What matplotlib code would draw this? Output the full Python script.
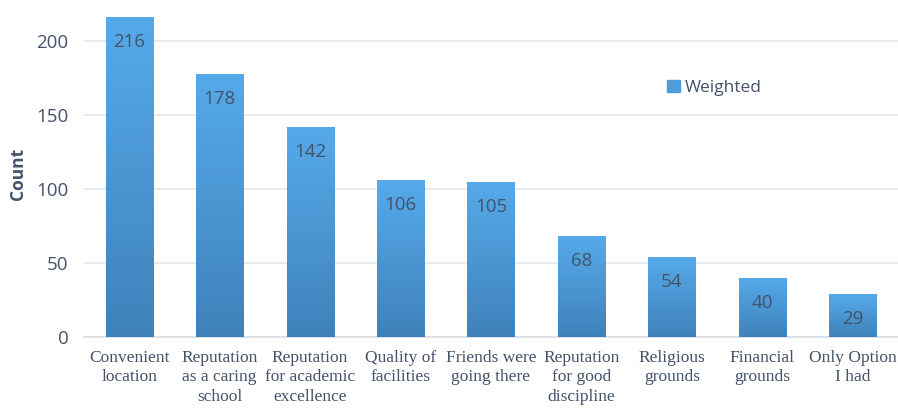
import numpy as np
import matplotlib.pyplot as plt
from matplotlib.colors import LinearSegmentedColormap
from matplotlib.patches import Patch

# datos del grafico
categorias = ['Convenient\nlocation', 'Reputation\nas a caring\nschool',
              'Reputation\nfor academic\nexcellence', 'Quality of\nfacilities',
              'Friends were\ngoing there', 'Reputation\nfor good\ndiscipline',
              'Religious\ngrounds', 'Financial\ngrounds', 'Only Option\nI had']
valores = [216, 178, 142, 106, 105, 68, 54, 40, 29]
yticks = [0, 50, 100, 150, 200]

texto = '#44526a'
cmap = LinearSegmentedColormap.from_list('azul', ['#3f82bb', '#56aaea'])

fig = plt.figure(figsize=(8.98, 4.09), dpi=100)
ax = fig.add_axes([0.0935, 0.176, 0.9065, 0.796])

x = np.arange(len(valores))
barras = ax.bar(x, valores, width=0.52, color='#4a96d4', zorder=2)

# degradado dentro de cada barra
grad = np.linspace(0, 1, 256).reshape(-1, 1)
for b in barras:
    x0, y0 = b.get_x(), b.get_y()
    im = ax.imshow(grad, cmap=cmap, origin='lower', aspect='auto',
                   extent=[x0, x0 + b.get_width(), y0, y0 + b.get_height()], zorder=3)
    im.set_clip_path(b)
    ax.annotate(str(int(b.get_height())), (b.get_x() + b.get_width() / 2, b.get_height()),
                xytext=(0, -18), textcoords='offset points',
                ha='center', va='center', fontsize=13.5, color=texto, family='Open Sans', zorder=4)

ax.set_xlim(-0.5, len(valores) - 0.5)
ax.set_ylim(0, 220)
ax.set_yticks(yticks)
ax.set_xticks(x)
ax.set_xticklabels(categorias, family='Liberation Serif', fontsize=12.5, color=texto, linespacing=1.3)
for t in ax.get_yticklabels():
    t.set_family('Open Sans')
    t.set_fontsize(13.5)
    t.set_color(texto)
ax.tick_params(axis='both', length=0)
ax.tick_params(axis='x', pad=9)
ax.tick_params(axis='y', pad=11)

ax.grid(axis='y', color='#e3e7ee', linewidth=1.2, zorder=0)
for s in ['top', 'right', 'left']:
    ax.spines[s].set_visible(False)
ax.spines['bottom'].set_color('#d9dde4')
ax.spines['bottom'].set_linewidth(1.2)

ax.set_ylabel('Count', family='Open Sans', fontsize=12.5, fontweight='bold', color=texto, labelpad=7)

ax.legend(handles=[Patch(facecolor='#4d9ddc', edgecolor='#4d9ddc')], labels=['Weighted'],
          loc='center left', bbox_to_anchor=(0.697, 0.765), frameon=False,
          prop={'family': 'Open Sans', 'size': 12.5}, labelcolor=texto,
          handlelength=0.75, handleheight=0.75, handletextpad=0.3)

plt.savefig('out.png')
